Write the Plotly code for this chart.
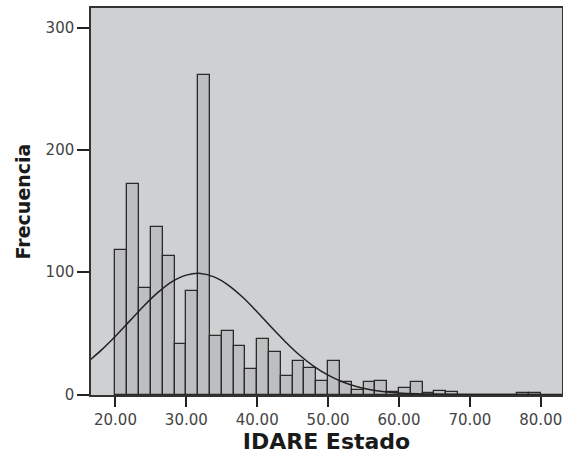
import plotly.graph_objects as go

# Histogram bins (IDARE Estado), width 5/3 starting at 20
bin_start = 20.0
bin_width = 5.0 / 3.0
counts = [118, 172, 87, 137, 113, 41, 85, 261, 48, 52, 40, 21, 45, 35, 15, 27,
          22, 11, 27, 10, 4, 10, 11, 2, 5, 10, 1, 3, 2, 0, 0, 0, 0, 0, 1, 1]

# Normal curve points
curve_x = [16.5, 18, 20, 22, 24, 26, 28, 30, 32, 34, 36, 38, 40, 42, 44, 46, 48,
           50, 52, 54, 56, 58, 60, 63, 66, 70, 75, 80, 83]
curve_y = [28.7, 36.3, 47.7, 60.0, 72.4, 83.5, 92.3, 97.6, 99.0, 96.0, 89.1, 79.3,
           67.5, 55.0, 43.0, 32.1, 23.0, 15.8, 10.4, 6.5, 3.9, 2.3, 1.2, 0.5, 0.15,
           0.02, 0, 0, 0]

x_ticks = [20, 30, 40, 50, 60, 70, 80]
x_tick_labels = ["20.00", "30.00", "40.00", "50.00", "60.00", "70.00", "80.00"]
y_ticks = [0, 100, 200, 300]
y_tick_labels = ["0", "100", "200", "300"]

centers = [bin_start + (i + 0.5) * bin_width for i in range(len(counts))]

fig = go.Figure()
fig.add_trace(go.Bar(
    x=centers, y=counts, width=[bin_width] * len(counts),
    marker=dict(color="#bdbec0", line=dict(color="#2a2a2a", width=1.3)),
    showlegend=False, hoverinfo="x+y",
))
fig.add_trace(go.Scatter(
    x=curve_x, y=curve_y, mode="lines",
    line=dict(color="#222222", width=1.5, shape="spline"),
    showlegend=False,
))

tick_font = dict(family="DejaVu Sans, Arial, sans-serif", size=15, color="#444444")

fig.update_layout(
    width=563, height=455,
    margin=dict(l=91, r=1, t=8, b=60),
    paper_bgcolor="white",
    plot_bgcolor="#cfd0d2",
    bargap=0,
    xaxis=dict(
        range=[16.55, 83.0], automargin=False,
        tickvals=x_ticks, ticktext=x_tick_labels,
        ticks="outside", ticklen=10, tickwidth=2, tickcolor="#222",
        showgrid=False, zeroline=False,
        showline=True, linecolor="#333", linewidth=1.5, mirror=True,
        tickfont=tick_font,
        title=dict(text="<b>IDARE Estado</b>",
                   font=dict(family="DejaVu Sans, Arial, sans-serif", size=22, color="#1a1a1a"),
                   standoff=4),
    ),
    yaxis=dict(
        range=[-0.4, 316], automargin=False,
        tickvals=y_ticks, ticktext=y_tick_labels,
        ticks="outside", ticklen=12, tickwidth=2, tickcolor="#222",
        showgrid=False, zeroline=False,
        showline=True, linecolor="#333", linewidth=1.5, mirror=True,
        tickfont=tick_font,
        title=dict(text="<b>Frecuencia</b>",
                   font=dict(family="DejaVu Sans, Arial, sans-serif", size=19, color="#1a1a1a"),
                   standoff=10),
    ),
)

fig.write_html(
    "out.html",
    config={"displayModeBar": False},
    post_script="document.body.style.margin='0';document.body.style.overflow='hidden';",
)
